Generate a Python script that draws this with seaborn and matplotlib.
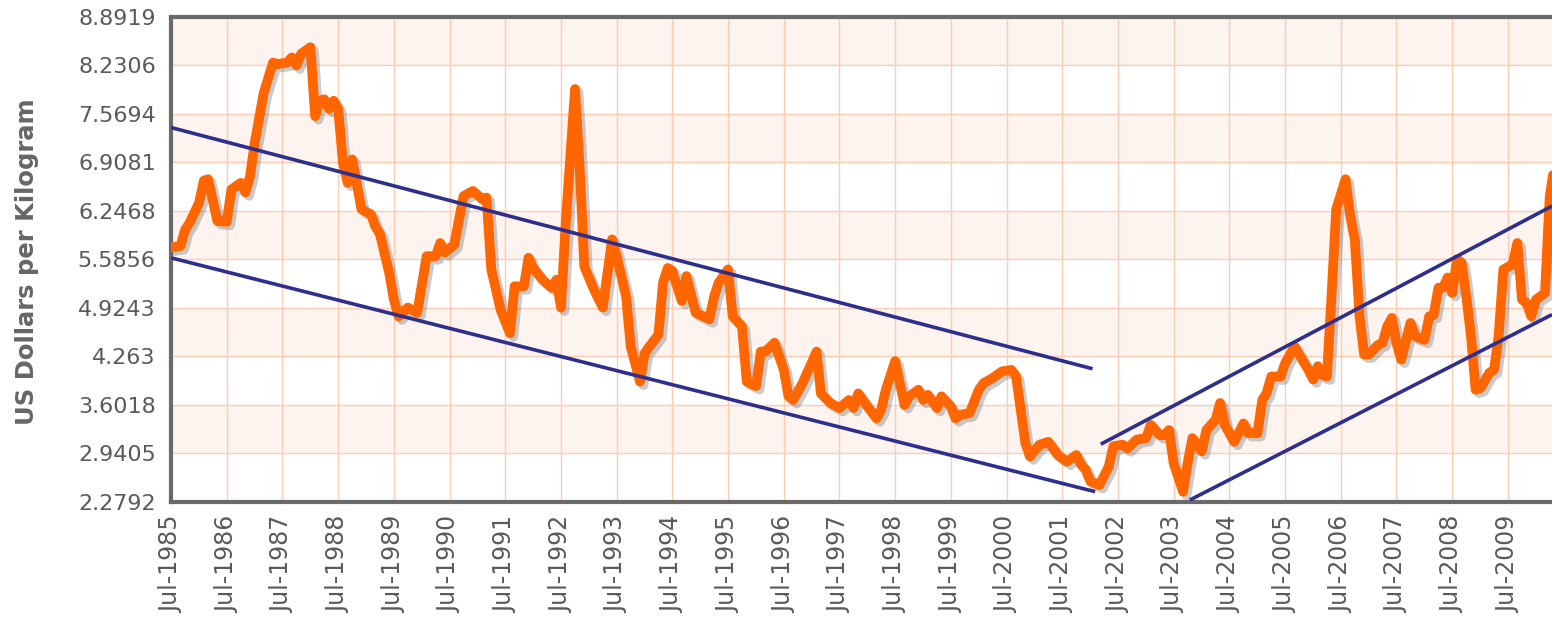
import pandas as pd
import matplotlib
matplotlib.use("Agg")
import matplotlib.pyplot as plt
import matplotlib.dates as mdates
import matplotlib.patheffects as pe
import seaborn as sns

# monthly price readings (US$ per kg)
months = [
    "1985-07", "1985-09", "1985-10", "1985-11",
    "1986-01", "1986-02", "1986-03", "1986-05", "1986-07", "1986-08", "1986-10", "1986-11", "1986-12",
    "1987-01", "1987-02", "1987-03", "1987-05", "1987-06", "1987-08", "1987-09", "1987-10", "1987-11",
    "1988-01", "1988-02", "1988-03", "1988-04", "1988-05", "1988-06", "1988-07", "1988-08", "1988-09", "1988-10", "1988-12",
    "1989-02", "1989-03", "1989-04", "1989-06", "1989-07", "1989-08", "1989-10", "1989-12",
    "1990-02", "1990-04", "1990-05", "1990-06", "1990-08", "1990-10", "1990-12",
    "1991-02", "1991-03", "1991-04", "1991-06", "1991-08", "1991-09", "1991-11", "1991-12",
    "1992-01", "1992-03", "1992-05", "1992-06", "1992-07", "1992-08", "1992-10", "1992-11", "1992-12",
    "1993-02", "1993-04", "1993-06", "1993-07", "1993-09", "1993-10", "1993-12",
    "1994-01", "1994-02", "1994-04", "1994-05", "1994-06", "1994-07", "1994-09", "1994-10", "1994-12",
    "1995-01", "1995-03", "1995-04", "1995-05", "1995-07", "1995-08", "1995-10", "1995-11",
    "1996-01", "1996-02", "1996-03", "1996-05", "1996-07", "1996-08", "1996-09", "1996-11",
    "1997-02", "1997-03", "1997-05", "1997-07", "1997-09", "1997-10", "1997-11", "1997-12",
    "1998-01", "1998-03", "1998-04", "1998-05", "1998-07", "1998-09", "1998-10", "1998-12",
    "1999-01", "1999-02", "1999-04", "1999-05", "1999-07", "1999-08", "1999-09", "1999-11",
    "2000-01", "2000-02", "2000-04", "2000-06", "2000-08", "2000-09", "2000-11", "2000-12",
    "2001-02", "2001-04", "2001-06", "2001-08", "2001-10", "2001-11", "2001-12",
    "2002-01", "2002-03", "2002-05", "2002-06", "2002-08", "2002-09", "2002-11",
    "2003-01", "2003-02", "2003-04", "2003-05", "2003-06", "2003-07", "2003-09", "2003-10", "2003-11",
    "2004-01", "2004-02", "2004-04", "2004-05", "2004-06", "2004-08", "2004-10", "2004-11",
    "2005-01", "2005-02", "2005-03", "2005-04", "2005-06", "2005-07", "2005-09", "2005-10", "2005-12",
    "2006-01", "2006-02", "2006-03", "2006-04", "2006-05", "2006-06", "2006-08", "2006-09", "2006-10", "2006-11", "2006-12",
    "2007-01", "2007-03", "2007-04", "2007-05", "2007-06", "2007-07", "2007-08", "2007-10", "2007-11",
    "2008-01", "2008-02", "2008-03", "2008-04", "2008-05", "2008-06", "2008-07", "2008-08", "2008-09", "2008-10", "2008-11", "2008-12",
    "2009-01", "2009-03", "2009-04", "2009-05", "2009-06", "2009-08", "2009-09", "2009-10", "2009-11", "2009-12",
    "2010-01", "2010-03", "2010-04", "2010-05",
]
price = [
    5.75, 5.77, 5.99, 6.09,
    6.36, 6.66, 6.68, 6.11, 6.10, 6.54, 6.63, 6.50, 6.72,
    7.18, 7.54, 7.86, 8.27, 8.25, 8.27, 8.34, 8.23, 8.39,
    8.48, 7.54, 7.75, 7.77, 7.64, 7.75, 7.64, 6.91, 6.63, 6.95, 6.27,
    6.20, 6.04, 5.93, 5.40, 5.04, 4.81, 4.93, 4.86,
    5.63, 5.63, 5.81, 5.68, 5.79, 6.45, 6.52,
    6.41, 6.43, 5.45, 4.90, 4.58, 5.22, 5.22, 5.61,
    5.47, 5.31, 5.20, 5.31, 4.93, 6.09, 7.91, 6.82, 5.49,
    5.18, 4.93, 5.86, 5.63, 5.08, 4.40, 3.92,
    4.31, 4.40, 4.56, 5.27, 5.47, 5.43, 5.02, 5.36, 4.86,
    4.83, 4.77, 5.08, 5.27, 5.45, 4.81, 4.67, 3.92,
    3.86, 4.33, 4.33, 4.45, 4.08, 3.72, 3.67, 3.90,
    4.33, 3.76, 3.63, 3.56, 3.67, 3.56, 3.76, 3.67,
    3.58, 3.42, 3.54, 3.81, 4.20, 3.60, 3.72, 3.81,
    3.67, 3.74, 3.56, 3.72, 3.58, 3.42, 3.47, 3.49,
    3.81, 3.90, 3.97, 4.06, 4.08, 3.99, 3.08, 2.90,
    3.06, 3.10, 2.92, 2.83, 2.92, 2.79, 2.72,
    2.56, 2.51, 2.76, 3.04, 3.06, 3.01, 3.13,
    3.15, 3.33, 3.19, 3.19, 3.26, 2.81, 2.42, 2.81, 3.15,
    2.97, 3.26, 3.40, 3.63, 3.33, 3.10, 3.35, 3.22,
    3.22, 3.67, 3.76, 3.99, 3.99, 4.17, 4.40, 4.29, 4.08,
    3.95, 4.13, 4.01, 3.99, 5.08, 6.27, 6.68, 6.18, 5.86, 4.81, 4.29,
    4.29, 4.42, 4.45, 4.67, 4.79, 4.45, 4.22, 4.72, 4.54,
    4.49, 4.81, 4.83, 5.20, 5.20, 5.34, 5.13, 5.59, 5.54, 5.08, 4.54, 3.81,
    3.83, 4.04, 4.08, 4.54, 5.45, 5.52, 5.81, 5.04, 4.99, 4.81,
    5.04, 5.13, 6.45, 6.85,
]
assert len(months) == len(price)

# hand-drawn trend channel (start / end of each line)
fall_upper_dates = ["1985-07-01", "2002-01-15"]
fall_upper_vals = [7.385, 4.096]
fall_lower_dates = ["1985-07-01", "2002-02-01"]
fall_lower_vals = [5.608, 2.42]
rise_upper_dates = ["2002-03-10", "2010-04-16"]
rise_upper_vals = [3.067, 6.314]
rise_lower_dates = ["2003-10-15", "2010-04-16"]
rise_lower_vals = [2.306, 4.834]

ytick_labels = ["2.2792", "2.9405", "3.6018", "4.263", "4.9243", "5.5856",
                "6.2468", "6.9081", "7.5694", "8.2306", "8.8919"]
yticks = [float(t) for t in ytick_labels]

df = pd.DataFrame({"date": pd.to_datetime(months), "price": price})

sns.set_style("white")
plt.rcParams["font.family"] = ["DejaVu Sans"]

fig = plt.figure(figsize=(15.52, 6.39), dpi=100)
ax = fig.add_axes([0.1102, 0.2144, 0.8898, 0.759])

# alternating horizontal bands
for i in range(len(yticks) - 1):
    if i % 2 == 1:
        ax.axhspan(yticks[i], yticks[i + 1], color="#fdf3ef", zorder=0, lw=0)

sns.lineplot(data=df, x="date", y="price", ax=ax, color="#ff6600", lw=7,
             solid_joinstyle="round", solid_capstyle="round", zorder=3,
             path_effects=[pe.SimpleLineShadow(offset=(2.5, -2.5), shadow_color="#555555", alpha=0.3),
                           pe.Normal()])

for d, v in [(fall_upper_dates, fall_upper_vals), (fall_lower_dates, fall_lower_vals),
             (rise_upper_dates, rise_upper_vals), (rise_lower_dates, rise_lower_vals)]:
    ax.plot(pd.to_datetime(d), v, color="#2e2e8f", lw=2.6, zorder=4, solid_capstyle="butt")

ax.set_ylim(yticks[0], yticks[-1])
ax.set_xlim(pd.Timestamp("1985-07-01"), pd.Timestamp("2010-04-16"))
ax.set_yticks(yticks)
ax.set_yticklabels(ytick_labels)
ax.xaxis.set_major_locator(mdates.MonthLocator(bymonth=7))
ax.xaxis.set_major_formatter(mdates.DateFormatter("%b-%Y"))
ax.grid(True, color="#fdcdb3", lw=1.0, zorder=1)
ax.set_axisbelow(True)

ax.tick_params(axis="y", length=0, pad=11, labelsize=16, labelcolor="#5a5a5a")
ax.tick_params(axis="x", length=0, pad=10, labelsize=17, labelcolor="#5a5a5a", rotation=90)
for lab in ax.get_xticklabels():
    lab.set_va("top")
    lab.set_ha("center")

for side in ["left", "top", "bottom"]:
    ax.spines[side].set_color("#6a6a6a")
    ax.spines[side].set_linewidth(3)
ax.spines["right"].set_visible(False)
ax.set_xlabel("")
ax.set_ylabel("")

fig.text(27 / 1552, 1 - 262 / 639, "US Dollars per Kilogram", rotation=90,
         ha="center", va="center", fontsize=17.5, fontweight="bold", color="#666666")

fig.savefig("out.png", dpi=100)
